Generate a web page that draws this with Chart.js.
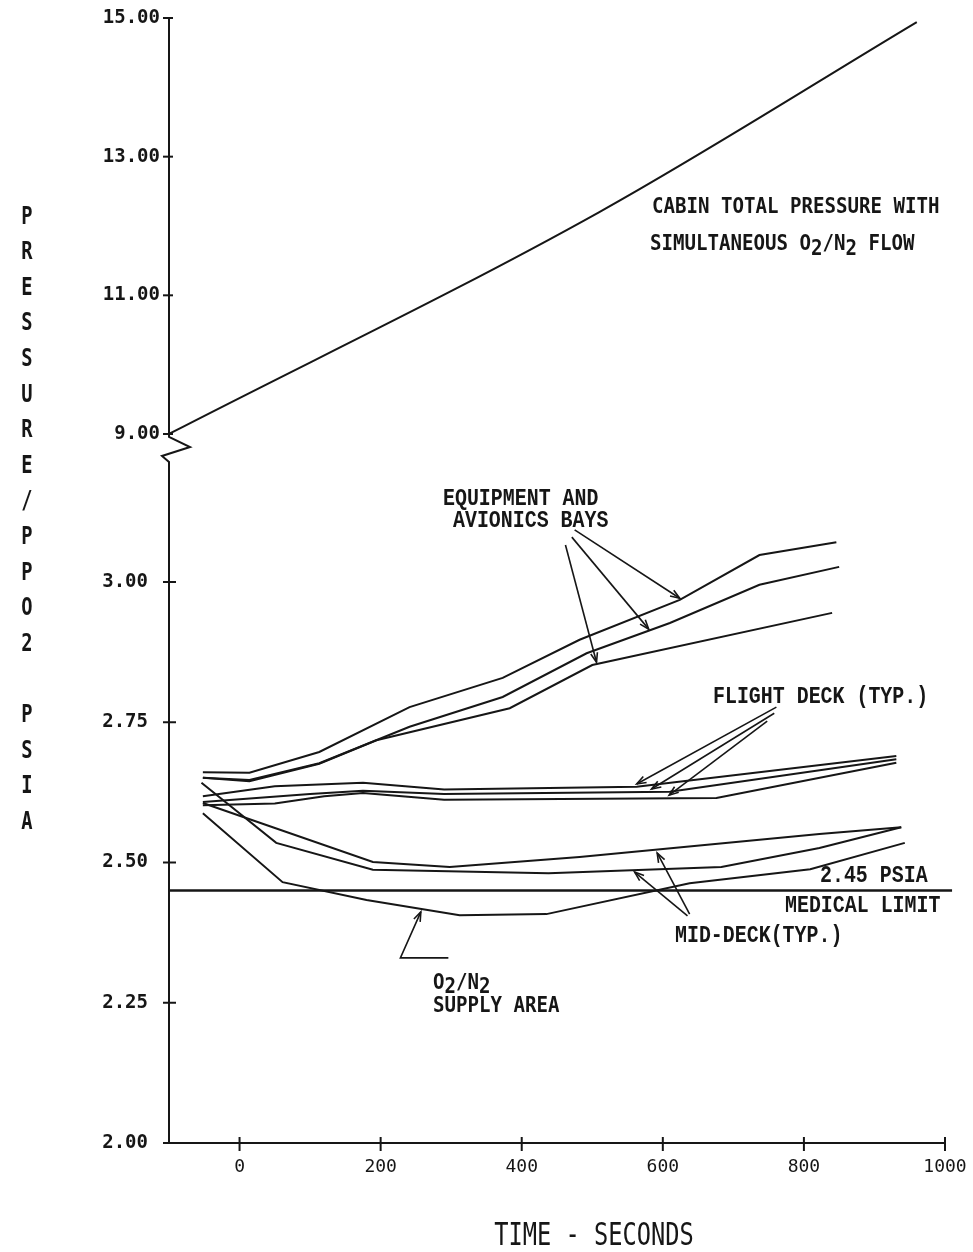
<!DOCTYPE html>
<html><head><meta charset="utf-8">
<script src="https://cdn.jsdelivr.net/npm/chart.js@4.4.1/dist/chart.umd.min.js"></script>
<style>html,body{margin:0;padding:0;background:#fff;}canvas{display:block;}</style>
</head><body>
<canvas id="c" width="973" height="1252"></canvas>
<script>
// ---------- data ----------
const xTicks = [0, 200, 400, 600, 800, 1000];
const yHighTicks = [9, 11, 13, 15];
const yLowTicks = [2.00, 2.25, 2.50, 2.75, 3.00];

const cabinTime = [-100, 510, 960];
const cabinPsia = [9.0, 12.20, 14.94];

const equipATime = [-52, 14, 113, 241, 373, 482, 624, 737, 846];
const equipAPsia = [2.661, 2.660, 2.697, 2.777, 2.829, 2.897, 2.968, 3.048, 3.071];
const equipBTime = [-52, 14, 113, 241, 373, 492, 610, 737, 850];
const equipBPsia = [2.651, 2.647, 2.677, 2.742, 2.795, 2.873, 2.927, 2.995, 3.027];
const equipCTime = [-52, 14, 113, 194, 383, 500, 840];
const equipCPsia = [2.651, 2.645, 2.676, 2.718, 2.775, 2.852, 2.945];

const flightATime = [-52, 50, 175, 290, 563, 931];
const flightAPsia = [2.618, 2.636, 2.642, 2.630, 2.635, 2.690];
const flightBTime = [-52, 100, 175, 290, 610, 931];
const flightBPsia = [2.608, 2.622, 2.628, 2.622, 2.626, 2.684];
const flightCTime = [-52, 50, 120, 175, 290, 676, 931];
const flightCPsia = [2.602, 2.605, 2.618, 2.624, 2.612, 2.615, 2.678];

const midATime = [-52, 189, 298, 482, 822, 938];
const midAPsia = [2.606, 2.501, 2.492, 2.510, 2.551, 2.563];
const midBTime = [-54, 52, 189, 438, 683, 822, 938];
const midBPsia = [2.642, 2.535, 2.487, 2.481, 2.492, 2.526, 2.563];

const supplyTime = [-52, 61, 180, 312, 435, 638, 809, 943];
const supplyPsia = [2.588, 2.465, 2.433, 2.406, 2.408, 2.463, 2.488, 2.535];

const limitTime = [-100, 1010];
const limitPsia = [2.45, 2.45];

// annotation pointers (time, psia) -> (time, psia)
const equipArrows = [[475, 3.093, 624, 2.971], [471, 3.080, 580, 2.916], [462, 3.066, 506, 2.857]];
const flightArrows = [[761, 2.777, 563, 2.640], [758, 2.766, 584, 2.631], [748, 2.752, 609, 2.620]];
const midArrows = [[638, 2.408, 592, 2.517], [635, 2.405, 560, 2.483]];
const supplyPointer = [[296, 2.330], [228, 2.330], [257, 2.412]];

// ---------- styling ----------
const INK = '#161616';
const MONO = '"DejaVu Sans Mono", monospace';
const TYPE = '"Liberation Mono", monospace';

function pts(ts, vs) { return ts.map((t, i) => ({ x: t, y: vs[i] })); }
function series(label, ts, vs, axis, extra) {
  return Object.assign({
    label, data: pts(ts, vs), yAxisID: axis, borderColor: INK, borderWidth: 2,
    pointRadius: 0, tension: 0, fill: false
  }, extra || {});
}

const datasets = [
  series('Cabin total pressure', cabinTime, cabinPsia, 'yHigh', { cubicInterpolationMode: 'monotone' }),
  series('Equipment/avionics bay 1', equipATime, equipAPsia, 'yLow'),
  series('Equipment/avionics bay 2', equipBTime, equipBPsia, 'yLow'),
  series('Equipment/avionics bay 3', equipCTime, equipCPsia, 'yLow'),
  series('Flight deck 1', flightATime, flightAPsia, 'yLow'),
  series('Flight deck 2', flightBTime, flightBPsia, 'yLow'),
  series('Flight deck 3', flightCTime, flightCPsia, 'yLow'),
  series('Mid-deck 1', midATime, midAPsia, 'yLow'),
  series('Mid-deck 2', midBTime, midBPsia, 'yLow'),
  series('O2/N2 supply area', supplyTime, supplyPsia, 'yLow'),
  series('Medical limit', limitTime, limitPsia, 'yLow', { borderWidth: 2.5, clip: false })
];

function drawText(ctx, parts, x, y, font, sx) {
  ctx.save();
  ctx.font = font;
  ctx.fillStyle = INK;
  ctx.textAlign = 'left';
  ctx.textBaseline = 'alphabetic';
  ctx.translate(x, y);
  ctx.scale(sx, 1);
  let cx = 0;
  for (const [txt, dy] of parts) {
    ctx.fillText(txt, cx, dy);
    cx += ctx.measureText(txt).width;
  }
  ctx.restore();
}

function seg(ctx, x1, y1, x2, y2) {
  ctx.beginPath(); ctx.moveTo(x1, y1); ctx.lineTo(x2, y2); ctx.stroke();
}
function head(ctx, x1, y1, x2, y2) {
  const a = Math.atan2(y2 - y1, x2 - x1), L = 10, s = 0.35;
  ctx.beginPath();
  ctx.moveTo(x2 - L * Math.cos(a - s), y2 - L * Math.sin(a - s));
  ctx.lineTo(x2, y2);
  ctx.lineTo(x2 - L * Math.cos(a + s), y2 - L * Math.sin(a + s));
  ctx.stroke();
}

const decor = {
  id: 'decor',
  afterDatasetsDraw(chart) {
    const ctx = chart.ctx;
    const X = chart.scales.x, YH = chart.scales.yHigh, YL = chart.scales.yLow;
    const L = chart.chartArea.left, B = chart.chartArea.bottom;
    const R = X.getPixelForValue(1000);
    ctx.save();
    ctx.strokeStyle = INK; ctx.lineWidth = 2; ctx.lineJoin = 'miter';

    // x axis with crossing ticks
    seg(ctx, L, B, R, B);
    xTicks.forEach(v => { const p = X.getPixelForValue(v); seg(ctx, p, B - 6, p, B + 8); });

    // broken y axis
    const yTop = YH.getPixelForValue(15), y9 = YH.getPixelForValue(9);
    ctx.beginPath();
    ctx.moveTo(L, yTop); ctx.lineTo(L, y9 + 3);
    ctx.lineTo(L + 21, y9 + 13); ctx.lineTo(L - 7, y9 + 22); ctx.lineTo(L, y9 + 28);
    ctx.lineTo(L, B);
    ctx.stroke();
    yHighTicks.forEach(v => { const p = YH.getPixelForValue(v); seg(ctx, L - 6, p, L + 4, p); });
    yLowTicks.forEach(v => { const p = YL.getPixelForValue(v); seg(ctx, L - 6, p, L + 7, p); });

    // pointers
    ctx.lineWidth = 1.6;
    const px = t => X.getPixelForValue(t), py = v => YL.getPixelForValue(v);
    [...equipArrows, ...flightArrows, ...midArrows].forEach(a => {
      seg(ctx, px(a[0]), py(a[1]), px(a[2]), py(a[3]));
      head(ctx, px(a[0]), py(a[1]), px(a[2]), py(a[3]));
    });
    ctx.beginPath();
    supplyPointer.forEach((p, i) => { if (i === 0) ctx.moveTo(px(p[0]), py(p[1])); else ctx.lineTo(px(p[0]), py(p[1])); });
    ctx.stroke();
    const n = supplyPointer.length;
    head(ctx, px(supplyPointer[n - 2][0]), py(supplyPointer[n - 2][1]), px(supplyPointer[n - 1][0]), py(supplyPointer[n - 1][1]));
    ctx.restore();

    // annotation text
    const sans = 'bold 21px ' + MONO, sSx = 0.91;
    const typ = 'bold 24px ' + TYPE, tSx = 0.83;
    drawText(ctx, [['CABIN TOTAL PRESSURE WITH', 0]], 652, 213, sans, sSx);
    drawText(ctx, [['SIMULTANEOUS O', 0], ['2', 5], ['/N', 0], ['2', 5], [' FLOW', 0]], 650, 250, sans, sSx);
    drawText(ctx, [['EQUIPMENT AND', 0]], 443, 505, typ, tSx);
    drawText(ctx, [['AVIONICS BAYS', 0]], 453, 527, typ, tSx);
    drawText(ctx, [['FLIGHT DECK (TYP.)', 0]], 713, 703, typ, tSx);
    drawText(ctx, [['2.45 PSIA', 0]], 820, 882, typ, tSx);
    drawText(ctx, [['MEDICAL LIMIT', 0]], 785, 912, typ, tSx);
    drawText(ctx, [['MID-DECK(TYP.)', 0]], 675, 942, typ, tSx);
    drawText(ctx, [['O', 0], ['2', 4], ['/N', 0], ['2', 4]], 433, 989, sans, sSx);
    drawText(ctx, [['SUPPLY AREA', 0]], 433, 1012, sans, sSx);

    // axis titles
    const yTitle = 'PRESSURE/PPO2 PSIA';
    ctx.save();
    ctx.fillStyle = INK;
    ctx.font = 'bold 25px ' + MONO;
    ctx.textAlign = 'center';
    ctx.textBaseline = 'middle';
    for (let i = 0; i < yTitle.length; i++) {
      const ch = yTitle[i];
      if (ch === ' ') continue;
      ctx.save();
      ctx.translate(27, 217 + i * 35.6);
      ctx.scale(0.75, 1);
      ctx.fillText(ch, 0, 0);
      ctx.restore();
    }
    ctx.restore();

    ctx.save();
    ctx.fillStyle = INK;
    ctx.font = '32px ' + MONO;
    ctx.textAlign = 'center';
    ctx.textBaseline = 'alphabetic';
    ctx.translate(594, 1245);
    ctx.scale(0.74, 1);
    ctx.fillText('TIME - SECONDS', 0, 0);
    ctx.restore();
  }
};

const tickFont = { family: MONO, size: 19, weight: 'bold' };
function zeroPad(s) { s.paddingTop = 0; s.paddingBottom = 0; s.paddingLeft = 0; s.paddingRight = 0; }

new Chart(document.getElementById('c'), {
  type: 'line',
  data: { datasets },
  options: {
    responsive: false, animation: false, devicePixelRatio: 1,
    layout: { padding: { left: 0, right: 28, top: 18, bottom: 0 } },
    plugins: { legend: { display: false }, tooltip: { enabled: false }, title: { display: false } },
    scales: {
      x: {
        type: 'linear', position: 'bottom', min: -100, max: 1000,
        afterBuildTicks: s => { s.ticks = xTicks.map(v => ({ value: v })); },
        afterFit: s => { s.height = 109; zeroPad(s); },
        grid: { display: false, drawTicks: false }, border: { display: false },
        ticks: { color: INK, font: { family: MONO, size: 18 }, padding: 14, maxRotation: 0, autoSkip: false, callback: v => String(v) }
      },
      yLow: {
        type: 'linear', position: 'left', stack: 'psia', stackWeight: 693, weight: 1,
        min: 2.0, max: 3.2353,
        afterBuildTicks: s => { s.ticks = yLowTicks.map(v => ({ value: v })); },
        afterFit: s => { s.width = 169; zeroPad(s); },
        grid: { display: false, drawTicks: false }, border: { display: false },
        ticks: { color: INK, font: tickFont, padding: 21, autoSkip: false, callback: v => Number(v).toFixed(2) }
      },
      yHigh: {
        type: 'linear', position: 'left', stack: 'psia', stackWeight: 432, weight: 2,
        min: 8.769, max: 15,
        afterBuildTicks: s => { s.ticks = yHighTicks.map(v => ({ value: v })); },
        afterFit: s => { s.width = 169; zeroPad(s); },
        grid: { display: false, drawTicks: false }, border: { display: false },
        ticks: { color: INK, font: tickFont, padding: 9, autoSkip: false, callback: v => Number(v).toFixed(2) }
      }
    }
  },
  plugins: [decor]
});
</script>
</body></html>
